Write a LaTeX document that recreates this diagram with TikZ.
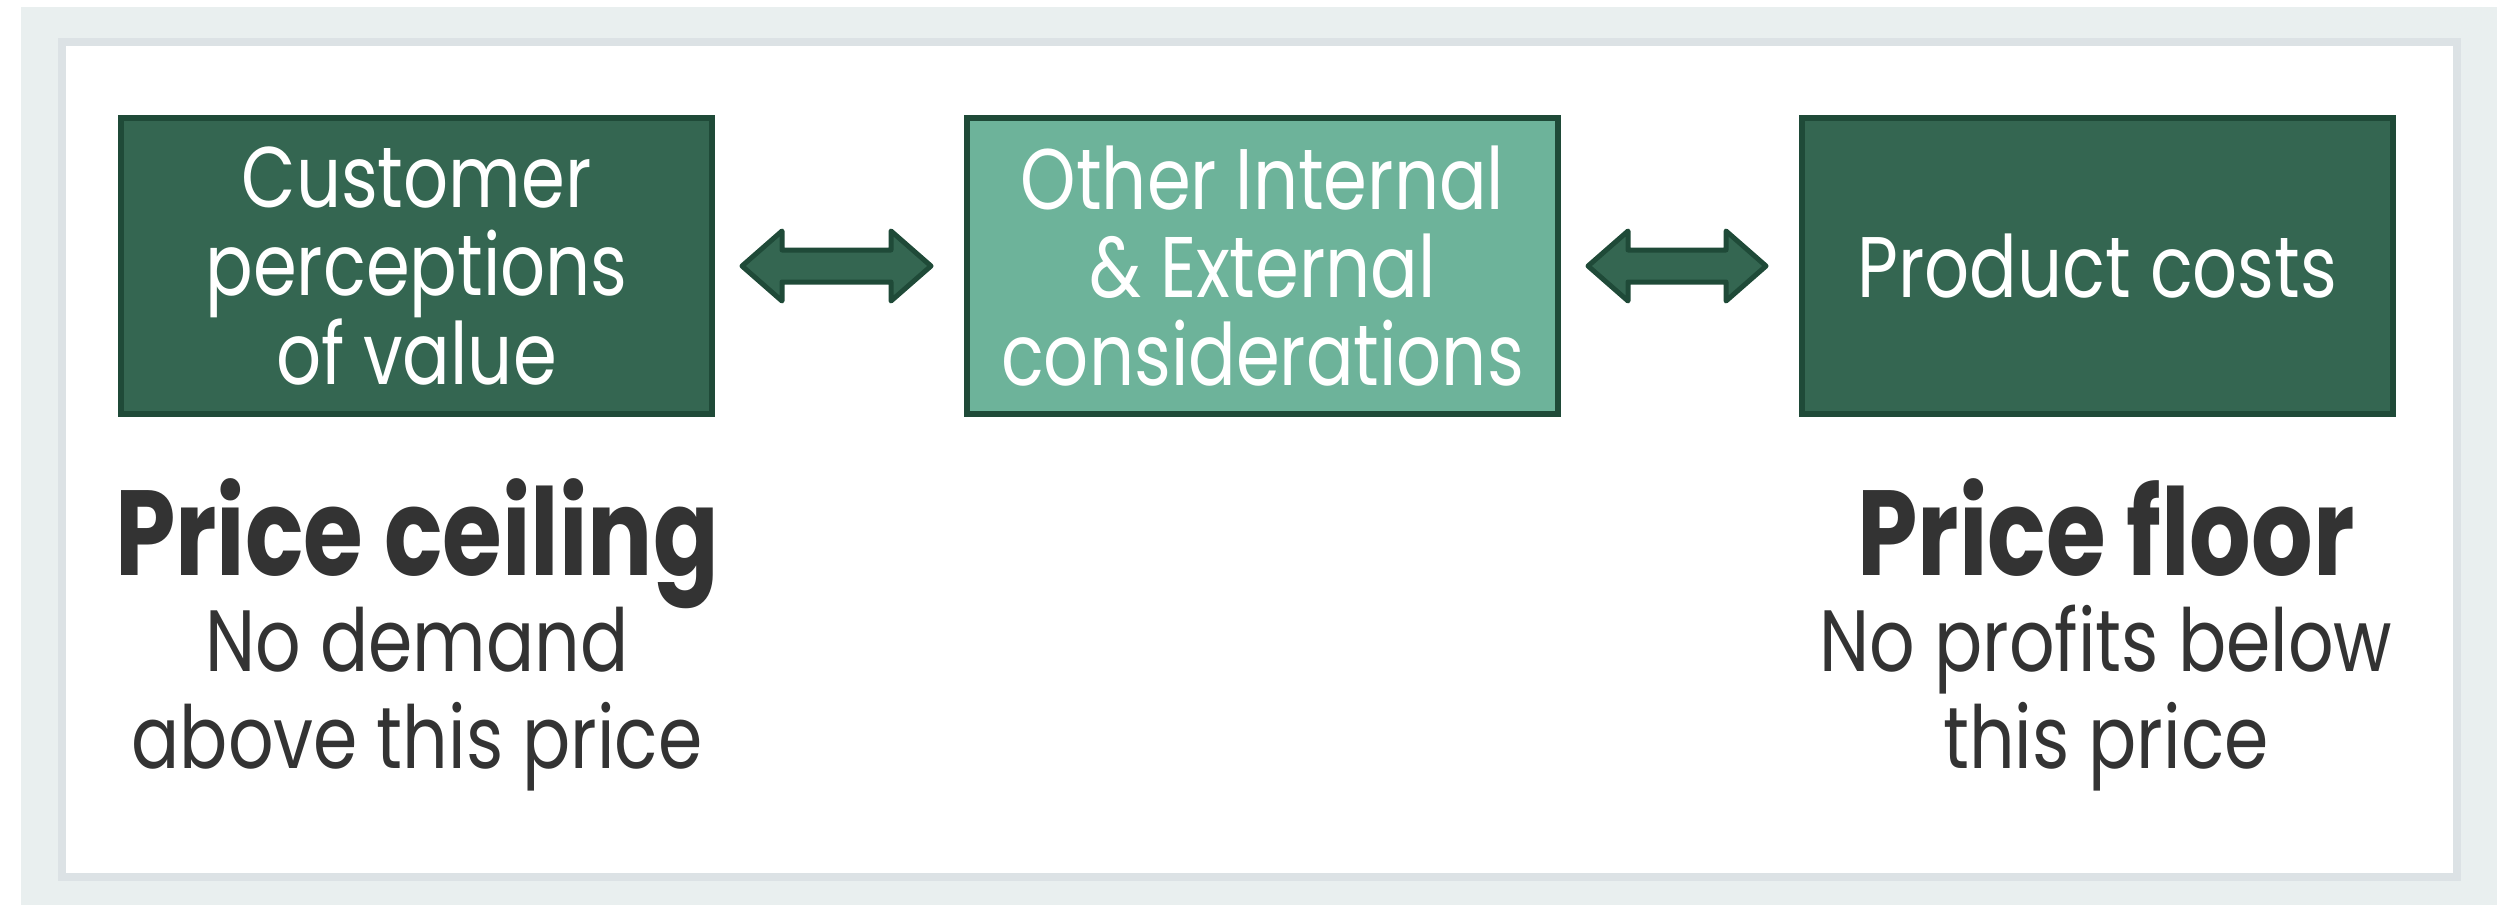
\documentclass[tikz,border=0pt]{standalone}
\usepackage{fontspec}
\setmainfont{Poppins}[FakeStretch=0.82, BoldFeatures={FakeStretch=0.80}]
\usetikzlibrary{positioning, calc}

\definecolor{darkgreen}{HTML}{346651}
\definecolor{edgegreen}{HTML}{1F4A38}
\definecolor{lightgreen}{HTML}{6DB39A}
\definecolor{textgray}{HTML}{333333}
\definecolor{bggray}{HTML}{E9EFEF}
\definecolor{panelgray}{HTML}{DCE2E5}

\tikzset{
x=1pt, y=-1pt, % one unit is one pixel of the reference
box/.style={draw=edgegreen, line width=6pt, fill=darkgreen, text=white,
  minimum width=591pt, minimum height=296pt, inner sep=0pt, align=center,
  font=\fontsize{86}{88}\selectfont}, % the dark green boxes
midbox/.style={box, fill=lightgreen}, % the middle box is lighter
heading/.style={text=textgray, anchor=base, inner sep=0pt,
  font=\bfseries\fontsize{121}{121}\selectfont},
subtext/.style={text=textgray, anchor=base, inner sep=0pt, align=center,
  font=\fontsize{87}{97}\selectfont}, % base is the last line
biarrow/.style={draw=edgegreen, fill=darkgreen, line width=5pt, line join=round}, % block arrows
}

% double headed block arrow between two boxes
\newcommand{\linkarrow}[2]{%
  \draw[biarrow] let \p1=($(#1.east)+(27pt,0pt)$), \p2=($(#2.west)+(-33pt,0pt)$) in
    (\x1,\y1) -- (\x1+40pt,\y1+35pt) -- (\x1+40pt,\y1+16pt) -- (\x2-40pt,\y1+16pt)
    -- (\x2-40pt,\y1+35pt) -- (\x2,\y1) -- (\x2-40pt,\y1-35pt) -- (\x2-40pt,\y1-16pt)
    -- (\x1+40pt,\y1-16pt) -- (\x1+40pt,\y1-35pt) -- cycle;}

\begin{document}
\begin{tikzpicture}

    \useasboundingbox (0,0) rectangle (2497,905);
    \fill[bggray] (21,7) rectangle (2497,905);
    \draw[panelgray, line width=8pt, fill=white] (62,42) rectangle (2457,877);

    \node[box] (cust) at (416.5,266) {Customer\\perceptions\\of value};
    \node[midbox] (other) at (1262.5,266) {Other Internal\\\& External\\considerations};
    \node[box] (cost) at (2097.5,266) {Product costs};

    \linkarrow{cust}{other}
    \linkarrow{other}{cost}

    \node[heading] (ceil) at (417,575) {Price ceiling};
    \node[subtext] (ceiltxt) at (417,768) {No demand\\above this price};
    \node[heading] (floor) at (2106,575) {Price floor};
    \node[subtext] (floortxt) at (2106,768) {No profits below\\this price};

\end{tikzpicture}
\end{document}
